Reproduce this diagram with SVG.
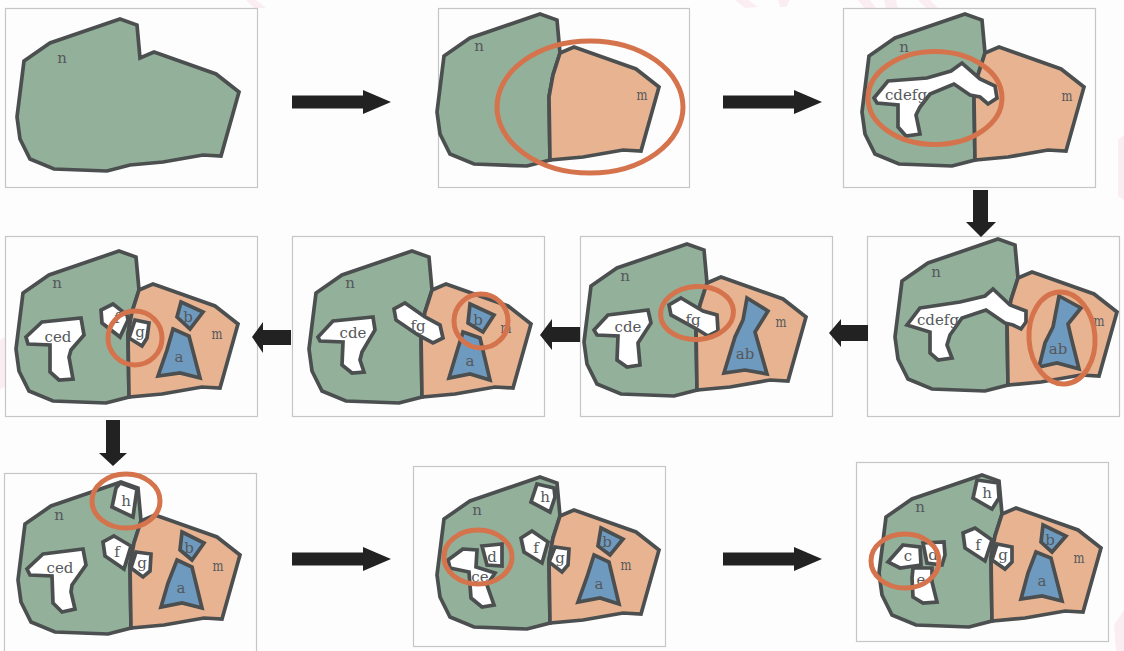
<svg xmlns="http://www.w3.org/2000/svg" width="1124" height="651" viewBox="0 0 1124 651">
<style>
.bg{fill:#fdfdfd}
.wm{fill:#fbeef2}
.fr{fill:#fdfdfd;stroke:#c6c6c6;stroke-width:1.2}
.n,.m,.w,.bl{stroke:#4c4f50;stroke-width:3.700;stroke-linejoin:miter}
.n{fill:#93b09a}.m{fill:#e8b391}.w{fill:#fff}.bl{fill:#6f9abf}
.r{fill:none;stroke:#d5734d;stroke-width:5}
.ar{fill:#222}
text{font-family:"DejaVu Serif","Liberation Serif",serif;font-size:15px;fill:#55585a;text-anchor:middle;dominant-baseline:central}
</style>
<defs>
<polygon id="nr" class="n" points="120,19 137,25 140,58 133,80 129,102 130,165 107,171 54,169 30,159 20,139 17,117 24,61 50,43"/>
<polygon id="mr" class="m" points="140,58 154,52 216,74 239,92 221,156 203,155 163,162 130,165 129,102 133,80"/>
<polygon id="ah" class="ar" points="0,-6.5 71,-6.5 71,-12 99,0 71,12 71,6.5 0,6.5"/>
</defs>
<rect class="bg" width="1124" height="651"/>
<g id="watermark">
<path class="wm" d="M246 0L256 0L266 8L254 8ZM735 0L748 0L758 7L745 8ZM778 0L790 0L786 7L780 7ZM858 0L870 0L876 8L864 8ZM884 0L896 0L898 8L886 8ZM918 0L930 0L938 8L926 8ZM0 340L8 335L7 385L0 390ZM1118 140L1124 135L1124 200L1118 196ZM1114 625L1124 610L1124 651L1116 651Z"/>
</g>
<g id="panel1">
<rect class="fr" x="5.500" y="8.500" width="252" height="179"/>
<polygon class="n" points="120,19 137,25 140,58 154,52 216,74 239,92 221,156 203,155 163,162 130,165 107,171 54,169 30,159 20,139 17,117 24,61 50,43"/>
<text x="62" y="58">n</text>
</g>
<g id="panel2">
<rect class="fr" x="438.500" y="8.500" width="251" height="179"/>
<g transform="translate(420,-5)"><use href="#nr"/><use href="#mr"/></g>
<text x="479" y="46">n</text><text x="642" y="95" textLength="11" lengthAdjust="spacingAndGlyphs">m</text>
<ellipse class="r" cx="590" cy="107" rx="93" ry="66"/>
</g>
<g id="panel3">
<rect class="fr" x="843.500" y="8.500" width="252" height="179"/>
<g transform="translate(845,-5)"><use href="#nr"/><use href="#mr"/></g>
<polygon class="w" points="888,81 927,78 951,71 962,63 980,79 995,86 997,98 988,104 980,97 970,95 954,84 930,94 920,107 916,115 920,134 906,136 898,127 898,105 877,103 874,98"/>
<text x="906" y="95">cdefg</text><text x="904" y="47">n</text><text x="1067" y="96" textLength="11" lengthAdjust="spacingAndGlyphs">m</text>
<ellipse class="r" cx="935" cy="98" rx="67" ry="46.500"/>
</g>
<g id="panel4">
<rect class="fr" x="867.500" y="236.500" width="252" height="180"/>
<g transform="translate(878,220)"><use href="#nr"/><use href="#mr"/></g>
<polygon class="w" points="920,308 960,302 985,296 993,289 1010,305 1026,311 1026,322 1021,329 1013,325 1005,323 986,310 962,318 950,335 947,345 952,358 938,360 930,353 930,332 907,325"/>
<polygon class="bl" points="1059,296 1081,308 1068,324 1071,337 1079,369 1057,363 1039,367 1045,343 1053,327"/>
<text x="936" y="272">n</text><text x="938" y="320">cdefg</text><text x="1058" y="349">ab</text><text x="1099" y="321" textLength="11" lengthAdjust="spacingAndGlyphs">m</text>
<ellipse class="r" cx="1062" cy="338" rx="33" ry="46" transform="rotate(-4 1062 338)"/>
</g>
<g id="panel5">
<rect class="fr" x="580.500" y="236.500" width="252" height="180"/>
<g transform="translate(567,225)"><use href="#nr"/><use href="#mr"/></g>
<polygon class="w" points="608,315 648,310 651,323 638,343 640,365 627,367 617,360 618,336 597,335 594,330"/>
<polygon class="w" points="681,298 703,311 717,315 718,331 708,336 695,328 671,315 669,305"/>
<polygon class="bl" points="747,298 768,311 755,332 767,374 745,370 724,373 735,337 743,320"/>
<text x="625" y="276">n</text><text x="628" y="327">cde</text><text x="693" y="320">fg</text><text x="745" y="354">ab</text><text x="781" y="322" textLength="11" lengthAdjust="spacingAndGlyphs">m</text>
<ellipse class="r" cx="697" cy="313" rx="36.500" ry="26.500" transform="rotate(-4 697 313)"/>
</g>
<g id="panel6">
<rect class="fr" x="292.500" y="236.500" width="252" height="180"/>
<g transform="translate(292,232)"><use href="#nr"/><use href="#mr"/></g>
<polygon class="w" points="333,321 373,317 375,330 362,352 360,360 364,372 352,373 342,365 343,342 320,341 318,337"/>
<polygon class="w" points="405,303 425,317 440,325 443,338 433,343 418,335 396,320 394,309"/>
<polygon class="bl" points="470,304 494,315 483,332 468,323"/>
<polygon class="bl" points="463,332 480,338 490,380 470,374 449,378 458,348"/>
<text x="350" y="283">n</text><text x="353" y="333">cde</text><text x="418" y="326">fg</text><text x="478" y="320">b</text><text x="470" y="361">a</text><text x="506" y="328" textLength="11" lengthAdjust="spacingAndGlyphs">m</text>
<circle class="r" cx="481" cy="321" r="27"/>
</g>
<g id="panel7">
<rect class="fr" x="5.500" y="236.500" width="252" height="180"/>
<g transform="translate(-1,232)"><use href="#nr"/><use href="#mr"/></g>
<polygon class="w" points="42,322 81,318 84,335 71,350 69,357 73,379 59,380 50,372 50,345 28,344 26,337"/>
<polygon class="w" points="113,304 127,315 128,320 120,337 102,323 101,310"/>
<polygon class="w" points="135,320 149,323 147,338 142,346 129,338"/>
<polygon class="bl" points="181,302 203,312 190,329 177,317"/>
<polygon class="bl" points="173,329 189,336 200,378 180,373 158,376 167,350"/>
<text x="57" y="283">n</text><text x="58" y="337">ced</text><text x="117" y="318">f</text><text x="140" y="332">g</text><text x="188" y="317">b</text><text x="179" y="357">a</text><text x="217" y="334" textLength="11" lengthAdjust="spacingAndGlyphs">m</text>
<circle class="r" cx="135" cy="338" r="27"/>
</g>
<g id="panel8">
<rect class="fr" x="4.500" y="473.500" width="252" height="180"/>
<g transform="translate(1,463)"><use href="#nr"/><use href="#mr"/></g>
<polygon class="w" points="43,554 83,549 86,565 72,585 71,592 75,609 62,612 53,603 52,576 30,575 27,569"/>
<polygon class="w" points="120,483 137,489 133,517 112,507 116,488"/>
<polygon class="w" points="114,536 131,546 124,569 105,556 103,542"/>
<polygon class="w" points="136,552 151,554 150,571 143,577 131,568"/>
<polygon class="bl" points="182,532 204,543 192,560 180,550"/>
<polygon class="bl" points="177,560 192,567 202,608 182,603 161,607 168,583"/>
<text x="59" y="515">n</text><text x="60" y="568">ced</text><text x="126" y="501">h</text><text x="117" y="552">f</text><text x="142" y="563">g</text><text x="189" y="548">b</text><text x="181" y="588">a</text><text x="218" y="566" textLength="11" lengthAdjust="spacingAndGlyphs">m</text>
<ellipse class="r" cx="126" cy="501" rx="34" ry="27"/>
</g>
<g id="panel9">
<rect class="fr" x="413.500" y="466.500" width="252" height="180"/>
<g transform="translate(420,458)"><use href="#nr"/><use href="#mr"/></g>
<polygon class="w" points="537,484 554,488 555,497 550,512 531,502"/>
<polygon class="w" points="532,531 548,542 542,563 524,552 521,538"/>
<polygon class="w" points="555,547 569,549 568,565 562,572 549,562"/>
<polygon class="bl" points="601,528 623,539 610,555 598,546"/>
<polygon class="bl" points="594,555 609,562 619,604 600,598 578,602 587,577"/>
<polygon class="w" points="463,549 477,550 476,567 495,573 487,585 494,605 482,607 471,598 469,572 450,568 448,560"/>
<polygon class="w" points="482,546 502,544 502,566 487,565"/>
<text x="477" y="510">n</text><text x="545" y="497">h</text><text x="536" y="548">f</text><text x="560" y="558">g</text><text x="607" y="542">b</text><text x="599" y="584">a</text><text x="626" y="565" textLength="11" lengthAdjust="spacingAndGlyphs">m</text><text x="492" y="557">d</text><text x="480" y="577">ce</text>
<ellipse class="r" cx="478" cy="557" rx="34" ry="27"/>
</g>
<g id="panel10">
<rect class="fr" x="856.500" y="462.500" width="252" height="179"/>
<g transform="translate(862,456)"><use href="#nr"/><use href="#mr"/></g>
<polygon class="w" points="977,480 998,483 999,498 992,509 973,498"/>
<polygon class="w" points="975,528 992,540 985,561 965,548 963,533"/>
<polygon class="w" points="997,544 1012,547 1012,562 1005,569 992,560"/>
<polygon class="bl" points="1043,525 1066,536 1052,552 1041,542"/>
<polygon class="bl" points="1036,552 1051,558 1062,601 1042,596 1021,599 1028,573"/>
<polygon class="w" points="903,545 920,547 921,565 900,568 888,562"/>
<polygon class="w" points="923,543 944,542 945,555 942,565 927,563"/>
<polygon class="w" points="913,568 932,568 932,582 937,602 923,603 913,597 912,578"/>
<text x="920" y="507">n</text><text x="987" y="493">h</text><text x="978" y="545">f</text><text x="1003" y="555">g</text><text x="1050" y="540">b</text><text x="1042" y="581">a</text><text x="1079" y="558" textLength="11" lengthAdjust="spacingAndGlyphs">m</text><text x="908" y="556">c</text><text x="933" y="555">d</text><text x="921" y="580">e</text>
<ellipse class="r" cx="905" cy="561" rx="34" ry="27"/>
</g>
<g id="connectors">
<use href="#ah" transform="translate(292,102)"/>
<use href="#ah" transform="translate(723,102)"/>
<use href="#ah" transform="translate(292,559)"/>
<use href="#ah" transform="translate(723,559)"/>
<polygon class="ar" points="973,190 988,190 988,222 996,222 981,237 966,222 973,222"/>
<polygon class="ar" points="106,420 120,420 120,453 127,453 113,466 99,453 106,453"/>
<polygon class="ar" points="868,325 868,341 841,341 841,347 829,333 841,319 841,325"/>
<polygon class="ar" points="580,327 580,342 552,342 552,350 540,335 552,319 552,327"/>
<polygon class="ar" points="291,330 291,345 263,345 263,353 252,337 263,322 263,330"/>
</g>
</svg>
